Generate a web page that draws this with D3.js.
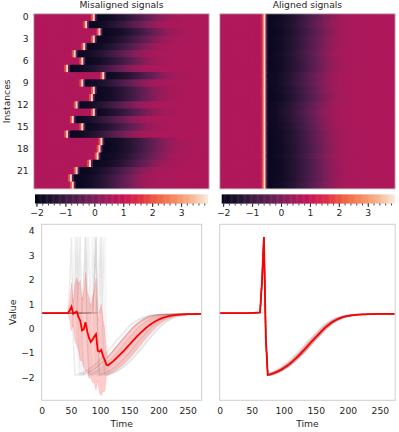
<!DOCTYPE html>
<html>

<head>
	<title>Signal alignment</title>
	<meta charset="utf-8">
	<script src="https://cdn.jsdelivr.net/npm/d3@7"></script>
</head>

<style>
	body { margin: 0; background: #fff; }
	text { font-family: "DejaVu Sans", sans-serif; fill: #262626; }
	.marks { filter: blur(0.5px); }
</style>

<body>

	<svg width="399" height="432"></svg>

	<script>
		var sampleTimes = d3.range(0, 274, 3);
		var alignedSignal = [
			0.63, 0.63, 0.63, 0.63, 0.63, 0.63, 0.63, 0.63, 0.63, 0.63, 0.63, 0.63,
			0.63, 0.63, 0.63, 0.63, 0.64, 0.64, 0.64, 0.65, 0.65, 0.66, 1.9, 3.75,
			-0.4, -1.9, -1.87, -1.84, -1.81, -1.78, -1.74, -1.7, -1.65, -1.6, -1.55, -1.49,
			-1.43, -1.36, -1.29, -1.22, -1.14, -1.06, -0.98, -0.9, -0.81, -0.72, -0.63, -0.54,
			-0.46, -0.38, -0.3, -0.21, -0.13, -0.05, 0.03, 0.1, 0.16, 0.22, 0.27, 0.32,
			0.36, 0.4, 0.43, 0.46, 0.48, 0.5, 0.52, 0.53, 0.54, 0.55, 0.56, 0.57,
			0.57, 0.58, 0.58, 0.58, 0.59, 0.59, 0.59, 0.59, 0.6, 0.6, 0.6, 0.6,
			0.6, 0.6, 0.6, 0.6, 0.6, 0.6, 0.6, 0.6
		];
		var spikeSample = 23;
		var dropSample = 25;

		// time of the spike in each instance of the misaligned panel
		var spikeTimes = [92, 82, 101, 93, 79, 62, 76, 52, 107, 76, 92, 89, 66, 92, 61, 74, 50, 104, 101, 98, 86, 66, 56, 61];
		// how many samples the recovery runs late in each instance
		var recoveryLag = [2, 1, 2, 1, 1, 0, 1, 1, -1, -1, 0, 1, -1, -2, -1, 0, 1, 1, 2, 1, 2, 2, 2, 1];

		var instanceTicks = [0, 3, 6, 9, 12, 15, 18, 21];
		var timeTicks = [0, 50, 100, 150, 200, 250];
		var valueTicks = [-2, -1, 0, 1, 2, 3, 4];
		var colorTicks = [-2, -1, 0, 1, 2, 3];
		var colorMinorTicks = d3.range(-2, 3.9, 0.2);
		var rocketColors = ['#03051a', '#221331', '#451c47', '#6a1f56', '#9c1b5b', '#c4155a', '#dd2c45', '#f06043', '#f58860', '#f6b48f', '#faebdd'];

		var svg = d3.select('svg');
		var frameColor = '#cfcfcf';
		var spreadFactor = 1.12;

		function buildSignal(shift, lag) {
			return sampleTimes.map(function(t, j) {
				var k = j - shift;
				if (k > dropSample) k = Math.max(dropSample, k - lag);
				k = Math.max(0, Math.min(alignedSignal.length - 1, k));
				return alignedSignal[k];
			});
		}

		var misaligned = spikeTimes.map(function(t, i) {
			return buildSignal(Math.round((t - sampleTimes[spikeSample]) / 3), recoveryLag[i]);
		});
		var aligned = spikeTimes.map(function(t, i) {
			return buildSignal(0, recoveryLag[i]);
		});

		var colorScale = d3.scaleLinear()
			.domain(d3.range(rocketColors.length).map(function(i) {
				return -2.05 + i * 5.97 / (rocketColors.length - 1);
			}))
			.range(rocketColors)
			.clamp(true);

		function cleanAxis(g) {
			g.select('.domain').remove();
			g.selectAll('text').style('font-size', '9.2px');
		}

		function drawFrame(x0, y0, w, h) {
			svg.append('rect')
				.attr('x', x0).attr('y', y0).attr('width', w).attr('height', h)
				.attr('fill', 'none').attr('stroke', frameColor);
		}

		function drawHeatmap(rows, x0, w, title, showY) {
			var y0 = 13.7, h = 175.3;
			var xBand = d3.scaleBand().domain(sampleTimes).range([x0, x0 + w]);
			var yBand = d3.scaleBand().domain(d3.range(rows.length)).range([y0, y0 + h]);

			svg.append('g').attr('class', 'marks')
				.selectAll('g')
				.data(rows)
				.enter()
				.append('g')
				.selectAll('rect')
				.data(function(row, i) {
					return row.map(function(v, j) {
						return { row: i, time: sampleTimes[j], value: v };
					});
				})
				.enter()
				.append('rect')
				.attr('x', function(d) { return xBand(d.time); })
				.attr('y', function(d) { return yBand(d.row); })
				.attr('width', function(d) {
					return d.time === sampleTimes[sampleTimes.length - 1] ? xBand.bandwidth() : xBand.bandwidth() + 1;
				})
				.attr('height', function(d) {
					return d.row === rows.length - 1 ? yBand.bandwidth() : yBand.bandwidth() + 1;
				})
				.attr('fill', function(d) { return colorScale(d.value); });

			drawFrame(x0, y0, w, h);

			svg.append('text')
				.attr('x', x0 + w / 2).attr('y', 8)
				.attr('text-anchor', 'middle')
				.style('font-size', '9.2px')
				.text(title);

			if (showY) {
				svg.append('g')
					.attr('transform', 'translate(' + x0 + ',0)')
					.call(d3.axisLeft(yBand).tickValues(instanceTicks).tickSize(0).tickPadding(5))
					.call(cleanAxis);
				svg.append('text')
					.attr('transform', 'translate(10,' + (y0 + h / 2) + ') rotate(-90)')
					.attr('text-anchor', 'middle')
					.style('font-size', '9.2px')
					.text('Instances');
			}
		}

		function drawColorbar(x0, w) {
			var y0 = 194.5, h = 9;
			var barScale = d3.scaleLinear().domain([-2.05, 3.92]).range([x0, x0 + w]);
			var steps = d3.range(-2.05, 3.9, 0.03);

			svg.append('g')
				.selectAll('rect')
				.data(steps)
				.enter()
				.append('rect')
				.attr('x', function(d) { return barScale(d); })
				.attr('y', y0)
				.attr('width', 1.4)
				.attr('height', h)
				.attr('fill', function(d) { return colorScale(d); });

			svg.append('g')
				.attr('transform', 'translate(0,' + (y0 + h) + ')')
				.call(d3.axisBottom(barScale).tickValues(colorMinorTicks).tickSize(2).tickFormat(''))
				.call(cleanAxis)
				.selectAll('line').attr('stroke', '#444');

			svg.append('g')
				.attr('transform', 'translate(0,' + (y0 + h) + ')')
				.call(d3.axisBottom(barScale).tickValues(colorTicks).tickSize(3.5).tickPadding(2).tickFormat(d3.format('d')))
				.call(cleanAxis)
				.selectAll('line').attr('stroke', '#333');
		}

		function drawLines(rows, x0, w, showY) {
			var y0 = 224.3, h = 176;
			var x = d3.scaleLinear().domain([0, 274]).range([x0, x0 + w]);
			var y = d3.scaleLinear().domain([-2.94, 4.27]).range([y0 + h, y0]);

			var means = sampleTimes.map(function(t, j) {
				return d3.mean(rows, function(r) { return r[j]; });
			});
			var devs = sampleTimes.map(function(t, j) {
				return spreadFactor * d3.deviation(rows, function(r) { return r[j]; });
			});

			var line = d3.line()
				.x(function(d, j) { return x(sampleTimes[j]); })
				.y(function(d) { return y(d); });

			var band = d3.area()
				.x(function(d, j) { return x(sampleTimes[j]); })
				.y0(function(d, j) { return y(means[j] - devs[j]); })
				.y1(function(d, j) { return y(means[j] + devs[j]); });

			var marks = svg.append('g').attr('class', 'marks');

			marks.selectAll('path.trace')
				.data(rows)
				.enter()
				.append('path')
				.attr('class', 'trace')
				.attr('d', line)
				.attr('fill', 'none')
				.attr('stroke', '#3a3a3a')
				.attr('stroke-opacity', 0.05)
				.attr('stroke-width', 1.5);

			marks.append('path')
				.attr('d', band(means))
				.attr('fill', 'red')
				.attr('fill-opacity', 0.2)
				.attr('stroke', 'red')
				.attr('stroke-opacity', 0.15)
				.attr('stroke-width', 0.7);

			marks.append('path')
				.attr('d', line(means))
				.attr('fill', 'none')
				.attr('stroke', 'red')
				.attr('stroke-width', 1.8);

			drawFrame(x0, y0, w, h);

			svg.append('g')
				.attr('transform', 'translate(0,' + (y0 + h) + ')')
				.call(d3.axisBottom(x).tickValues(timeTicks).tickSize(0).tickPadding(7))
				.call(cleanAxis);

			svg.append('text')
				.attr('x', x0 + w / 2).attr('y', 427)
				.attr('text-anchor', 'middle')
				.style('font-size', '9.2px')
				.text('Time');

			if (showY) {
				svg.append('g')
					.attr('transform', 'translate(' + x0 + ',0)')
					.call(d3.axisLeft(y).tickValues(valueTicks).tickSize(0).tickPadding(7))
					.call(cleanAxis);
				svg.append('text')
					.attr('transform', 'translate(16,' + (y0 + h / 2) + ') rotate(-90)')
					.attr('text-anchor', 'middle')
					.style('font-size', '9.2px')
					.text('Value');
			}
		}

		drawHeatmap(misaligned, 33.7, 175.5, 'Misaligned signals', true);
		drawHeatmap(aligned, 219.7, 175.5, 'Aligned signals', false);
		drawColorbar(35, 172.7);
		drawColorbar(221.7, 172.7);
		drawLines(misaligned, 41.7, 160, true);
		drawLines(aligned, 219.7, 175.5, false);
	</script>
</body>

</html>
